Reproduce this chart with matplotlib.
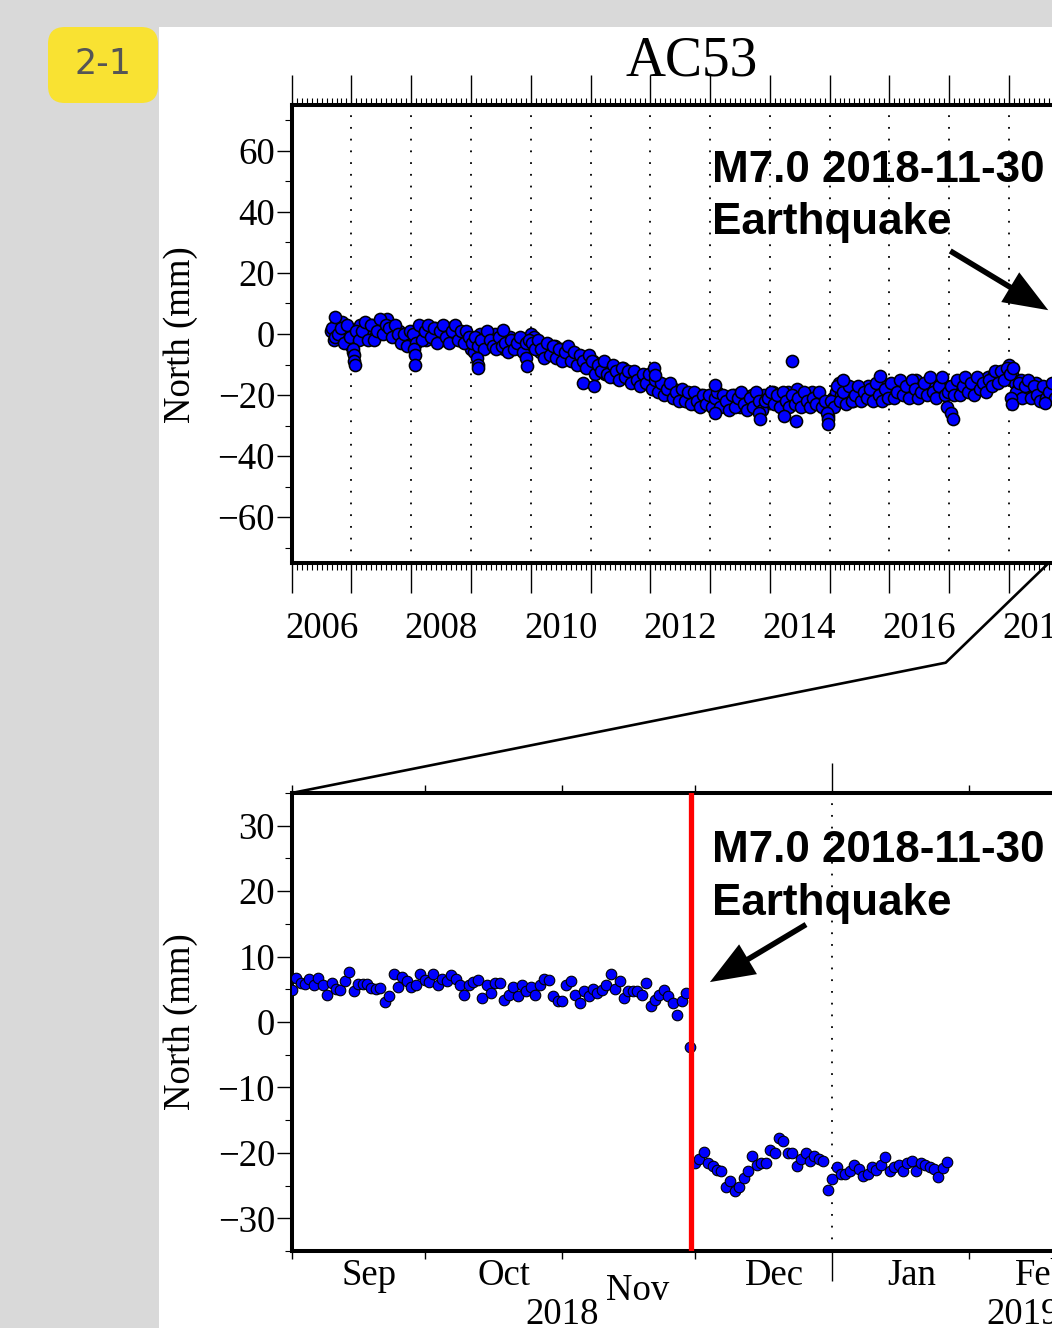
import numpy as np
import matplotlib
matplotlib.use("Agg")
import matplotlib.pyplot as plt
import matplotlib.dates as mdates
import matplotlib.transforms as mtransforms
from matplotlib.patches import FancyBboxPatch, Rectangle
from matplotlib.lines import Line2D
from matplotlib.ticker import FixedLocator, MultipleLocator

# ---- long series, North (mm), one value every 0.05 yr from 2006.65 ----
seg2006 = [1, -2, 3, -1, 4, 0, -2]
seg2007 = [-4, -2, 0, 3, -1, 2, 0, 3, -1, 2, 4, 1, 5, 0, 2, -1, 1, -2, -3, -1]
seg2008 = [-3, 1, -1, 2, 0, -2, 1, -1, 2, 0, 1, -2, 0, 2, -1, 1, -2, 0, -1, -3]
seg2009 = [-5, -6, -2, 0, -3, -1, -4, -2, 0, -3, -2, -5, -3, -1, -4, -2, -5, -3, -6, -4]
seg2010 = [0, -1, -4, -6, -4, -7, -5, -6, -4, -7, -5, -8, -6, -7, -9, -7, -8, -10, -8, -9]
seg2011 = [-11, -9, -12, -10, -11, -13, -11, -12, -14, -12, -13, -11, -14, -13, -15, -13, -14, -16, -14, -15]
seg2012 = [-16, -18, -15, -17, -19, -17, -18, -20, -18, -21, -19, -20, -22, -20, -21, -23, -21, -20, -22, -21]
seg2013 = [-22, -20, -23, -21, -22, -24, -21, -23, -20, -22, -24, -21, -23, -22, -20, -23, -21, -24, -20, -22]
seg2014 = [-21, -19, -22, -20, -23, -21, -19, -22, -20, -18, -21, -23, -20, -22, -19, -21, -20, -22, -24, -25]
seg2015 = [-24, -21, -19, -16, -20, -18, -21, -19, -22, -20, -18, -21, -19, -17, -20, -18, -21, -19, -17, -19]
seg2016 = [-18, -20, -17, -19, -16, -18, -20, -17, -19, -15, -17, -19, -16, -18, -15, -17, -19, -16, -18, -17]
seg2017 = [-19, -18, -17, -19, -16, -18, -15, -17, -19, -16, -17, -15, -17, -14, -16, -13, -15, -14, -12, -13]
seg2018 = [-10, -13, -16, -18, -15, -19, -17, -20, -18, -16, -19, -21, -18, -20, -17, -19, -18, -20, -19]

# second pass of the same series, every 0.05 yr from 2006.675
b2006 = [2, -1, 0, 2, -3, 3, -1]
b2007 = [-6, 1, -2, 1, 4, -2, 3, -2, 1, 5, 0, 3, 2, -1, 3, 0, -3, 0, -4, 1]
b2008 = [0, -3, 3, -2, 1, 3, -1, 2, -3, 1, 3, -1, -3, 1, 3, -2, 1, -3, 1, -1]
b2009 = [-3, -1, -4, -2, -5, 1, -2, -4, -5, -1, -4, -3, -6, -2, -5, -3, -1, -6, -3, -2]
b2010 = [-3, -5, -2, -5, -8, -3, -7, -4, -8, -5, -9, -6, -4, -9, -6, -10, -7, -9, -11, -7]
b2011 = [-9, -13, -10, -12, -9, -13, -14, -10, -12, -15, -11, -14, -12, -16, -12, -15, -17, -13, -16, -13]
b2012 = [-18, -15, -19, -16, -20, -18, -16, -21, -19, -22, -18, -22, -19, -23, -19, -22, -24, -20, -23, -20]
b2013 = [-24, -21, -19, -24, -20, -22, -25, -20, -24, -21, -19, -23, -25, -21, -24, -19, -22, -25, -22, -21]
b2014 = [-19, -23, -20, -24, -19, -22, -24, -20, -23, -21, -24, -19, -22, -24, -21, -23, -19, -24, -22, -27]
b2015 = [-22, -24, -17, -22, -19, -23, -17, -22, -20, -17, -22, -19, -21, -18, -22, -16, -20, -22, -18, -21]
b2016 = [-16, -21, -19, -15, -20, -17, -21, -15, -18, -21, -19, -16, -20, -14, -19, -21, -17, -14, -20, -19]
b2017 = [-17, -20, -15, -20, -17, -14, -19, -16, -20, -14, -18, -16, -19, -15, -17, -12, -16, -12, -15, -11]
b2018 = [-13, -11, -19, -16, -21, -17, -15, -21, -17, -20, -22, -17, -21, -19, -16, -21, -20, -17, -21]

# outliers / short excursions
spike_t = [2006.72, 2007.02, 2007.04, 2007.05, 2007.06, 2008.05, 2008.06, 2008.07,
           2009.10, 2009.11, 2009.12, 2009.54, 2009.92, 2009.93, 2010.88, 2011.06,
           2012.07, 2012.08, 2013.08, 2013.08, 2013.82, 2013.84, 2014.38, 2014.24,
           2014.44, 2014.96, 2014.97, 2014.98, 2015.22, 2015.85, 2016.96, 2017.03,
           2017.07, 2018.04, 2018.06, 2018.60]
spike_v = [5.6, -5, -7, -9, -10, -5, -7, -10,
           -8, -10, -11, 1.2, -8, -10.5, -16, -17,
           -11, -13.5, -26, -16.8, -26, -28, -9, -27,
           -28.5, -26, -28, -29.5, -15, -13.6, -24, -26,
           -28, -21, -23, -22.5]

# ---- zoomed series, daily from 2018-09-01 ----
north_pre = [4.9, 6.8, 5.9, 5.8, 6.5, 5.6, 6.7, 5.7, 4.1, 5.9,
             5.0, 4.9, 6.2, 7.7, 4.8, 5.8, 5.8, 5.8, 5.2, 5.0,
             5.2, 3.1, 4.0, 7.4, 5.4, 6.9, 6.2, 5.4, 5.6, 7.3,
             6.4, 6.1, 7.4, 5.6, 6.6, 6.3, 7.2, 6.6, 5.6, 4.2,
             5.6, 6.1, 6.4, 3.7, 5.7, 4.5, 5.9, 5.9, 3.4, 4.2,
             5.4, 4.0, 5.6, 4.7, 5.3, 4.2, 5.6, 6.6, 6.4, 4.0,
             3.2, 3.2, 5.6, 6.3, 4.2, 2.9, 4.7, 4.0, 5.0, 4.4,
             4.9, 5.7, 7.3, 5.0, 6.2, 3.7, 4.7, 4.7, 4.7, 4.2,
             5.9, 2.5, 3.4, 4.2, 4.9, 3.9, 2.9, 1.1, 3.2, 4.5,
             -3.8]
north_post = [-21.6, -21.0, -19.8, -21.5, -22.0, -22.6, -22.7, -25.2, -24.3, -25.8,
              -25.2, -23.8, -22.8, -20.5, -21.8, -21.6, -21.6, -19.6, -20.0, -17.7,
              -18.2, -20.0, -20.0, -22.0, -21.0, -20.0, -21.2, -20.5, -21.0, -21.2,
              -25.7, -24.0, -22.1, -23.3, -23.2, -22.8, -21.9, -22.5, -23.6, -23.3,
              -22.1, -22.6, -21.8, -20.6, -22.7, -22.1, -21.9, -22.8, -21.6, -21.2,
              -22.7, -21.5, -21.9, -22.1, -22.4, -23.7, -22.3, -21.4]

year_labels = [2006, 2008, 2010, 2012, 2014, 2016, 2018]
month_starts = ["2018-09-01", "2018-10-01", "2018-11-01", "2018-12-01",
                "2019-01-01", "2019-02-01", "2019-03-01"]
month_names = ["Sep", "Oct", "Nov", "Dec", "Jan", "Feb"]
quake_date = "2018-11-30T02"
label = "M7.0 2018-11-30\nEarthquake"

W, H = 1052, 1328
plt.rcParams["font.family"] = "Liberation Serif"
plt.rcParams["font.size"] = 26.5

fig = plt.figure(figsize=(W / 100, H / 100), dpi=100)
fig.patch.set_facecolor("#d9d9d9")
fig.add_artist(Rectangle((159 / W, 0), 1, 1 - 27 / H, transform=fig.transFigure,
                         facecolor="white", edgecolor="none", zorder=0))
fig.add_artist(FancyBboxPatch((48 / W, 1 - 103 / H), 110 / W, 76 / H,
                              boxstyle="round,pad=0,rounding_size=0.016",
                              mutation_aspect=W / H, transform=fig.transFigure,
                              facecolor="#f9e232", edgecolor="none", zorder=1))
fig.text(103 / W, 1 - 64 / H, "2-1", ha="center", va="center", fontsize=25,
         color="#555555", family="DejaVu Sans")

blue = "#0000ff"

# ---------------- top panel ----------------
px_year = 59.76
x0, x1 = 2006.0, 2019.4
ax1 = fig.add_axes([291.7 / W, 1 - 563 / H, (x1 - x0) * px_year / W, 458 / H])
ax1.set_xlim(x0, x1)
ax1.set_ylim(-75, 75)

north_top = (seg2006 + seg2007 + seg2008 + seg2009 + seg2010 + seg2011 + seg2012
             + seg2013 + seg2014 + seg2015 + seg2016 + seg2017 + seg2018)
north_top_b = (b2006 + b2007 + b2008 + b2009 + b2010 + b2011 + b2012
               + b2013 + b2014 + b2015 + b2016 + b2017 + b2018)
t_top = 2006.65 + 0.05 * np.arange(len(north_top))
t_top_b = 2006.675 + 0.05 * np.arange(len(north_top_b))

for yr in range(2007, 2020):
    ax1.axvline(yr, color="black", lw=1.3, ls=(0, (1, 5.5)), zorder=1)

for tt, vv in [(t_top, north_top), (t_top_b, north_top_b), (spike_t, spike_v)]:
    ax1.scatter(tt, vv, s=76, c=blue, edgecolors="black", linewidths=1.15, zorder=3)

ax1.xaxis.set_major_locator(FixedLocator(list(range(2006, 2020))))
ax1.xaxis.set_minor_locator(FixedLocator([y + m / 12 for y in range(2006, 2020) for m in range(1, 12)]))
ax1.tick_params(axis="x", which="major", direction="out", length=21.6, width=1.0,
                top=True, bottom=True, labelbottom=False)
ax1.tick_params(axis="x", which="minor", direction="out", length=5, width=0.8,
                top=True, bottom=True)
ax1.yaxis.set_major_locator(MultipleLocator(20))
ax1.yaxis.set_minor_locator(MultipleLocator(10))
ax1.tick_params(axis="y", which="major", direction="out", length=10.5, width=1.0, pad=1.5)
ax1.tick_params(axis="y", which="minor", direction="out", length=5, width=0.8)
for sp in ax1.spines.values():
    sp.set_linewidth(2.9)

tr1 = mtransforms.blended_transform_factory(ax1.transData, ax1.transAxes)
for yr in year_labels:
    ax1.text(yr + 0.5, (563 - 638) / 458, str(yr), transform=tr1, ha="center",
             va="baseline", clip_on=False)

fig.text(181 / W, 1 - 335 / H, "North (mm)", rotation=90, ha="center", va="center")
fig.text(692 / W, 1 - 75 / H, "AC53", ha="center", va="baseline", fontsize=40)

# va="baseline" on two lines sits on the last line
ax1.text(2013.03, 32.6, label, ha="left", va="baseline", family="Liberation Sans",
         fontweight="bold", fontsize=31.7, linespacing=1.37, zorder=5)
ax1.annotate("", xy=(2018.66, 7.8), xytext=(2017.02, 27.2),
             arrowprops=dict(width=4, headwidth=25, headlength=32, shrink=0,
                             facecolor="black", edgecolor="none"), zorder=5)

# ---------------- bottom panel ----------------
px_day = 4.43
d0 = mdates.date2num(np.datetime64("2018-09-01"))
d1 = d0 + 208
ax2 = fig.add_axes([291.7 / W, 1 - 1251 / H, (d1 - d0) * px_day / W, 458 / H])
ax2.set_xlim(d0, d1)
ax2.set_ylim(-35, 35)

days_pre = d0 + np.arange(len(north_pre))
days_post = d0 + len(north_pre) + np.arange(len(north_post))
ax2.scatter(days_pre, north_pre, s=58, c=blue, edgecolors="black", linewidths=0.8, zorder=3)
ax2.scatter(days_post, north_post, s=58, c=blue, edgecolors="black", linewidths=0.8, zorder=3)

mstarts = [mdates.date2num(np.datetime64(m)) for m in month_starts]
jan1 = mdates.date2num(np.datetime64("2019-01-01"))
ax2.axvline(jan1, color="black", lw=1.3, ls=(0, (1, 5.5)), zorder=1)
quake = mdates.date2num(np.datetime64(quake_date))
ax2.axvline(quake, color="red", lw=3.8, zorder=4)

ax2.xaxis.set_major_locator(FixedLocator([jan1]))
ax2.xaxis.set_minor_locator(FixedLocator([m for m in mstarts if m != jan1]))
ax2.tick_params(axis="x", which="major", direction="out", length=21.6, width=1.0,
                top=True, bottom=True, labelbottom=False)
ax2.tick_params(axis="x", which="minor", direction="out", length=5.5, width=1.0,
                top=True, bottom=True)
ax2.yaxis.set_major_locator(MultipleLocator(10))
ax2.yaxis.set_minor_locator(MultipleLocator(5))
ax2.tick_params(axis="y", which="major", direction="out", length=10.5, width=1.0, pad=1.5)
ax2.tick_params(axis="y", which="minor", direction="out", length=5, width=0.8)
for sp in ax2.spines.values():
    sp.set_linewidth(2.9)

tr2 = mtransforms.blended_transform_factory(ax2.transData, ax2.transAxes)
for i, name in enumerate(month_names):
    mid = (mstarts[i] + mstarts[i + 1]) / 2
    base = 1300 if name == "Nov" else 1285
    ax2.text(mid + (2 if name == "Nov" else 2.5), (1251 - base) / 458, name, transform=tr2,
             ha="center", va="baseline", clip_on=False)
ax2.text((d0 + jan1) / 2, (1251 - 1324) / 458, "2018", transform=tr2, ha="center",
         va="baseline", clip_on=False)
ax2.text((jan1 + d1) / 2, (1251 - 1324) / 458, "2019", transform=tr2, ha="center",
         va="baseline", clip_on=False)

fig.text(181 / W, 1 - 1022 / H, "North (mm)", rotation=90, ha="center", va="center")

ax2.text(d0 + 94.9, 16.4, label, ha="left", va="baseline", family="Liberation Sans",
         fontweight="bold", fontsize=31.7, linespacing=1.37, zorder=5)
ax2.annotate("", xy=(d0 + 94.4, 6.1), xytext=(d0 + 116.1, 14.9),
             arrowprops=dict(width=4, headwidth=25, headlength=32, shrink=0,
                             facecolor="black", edgecolor="none"), zorder=5)

# zoom connector between the panels
inv = fig.transFigure.inverted()
pa = inv.transform(ax1.transData.transform((2018.667, -75)))
pb = inv.transform(ax2.transData.transform((d0, 35)))
fig.add_artist(Line2D([pb[0], 945.7 / W, pa[0]], [pb[1], 1 - 662.7 / H, pa[1]],
                      transform=fig.transFigure, color="black", lw=1.9, zorder=6))

fig.savefig("out.png", dpi=100)
